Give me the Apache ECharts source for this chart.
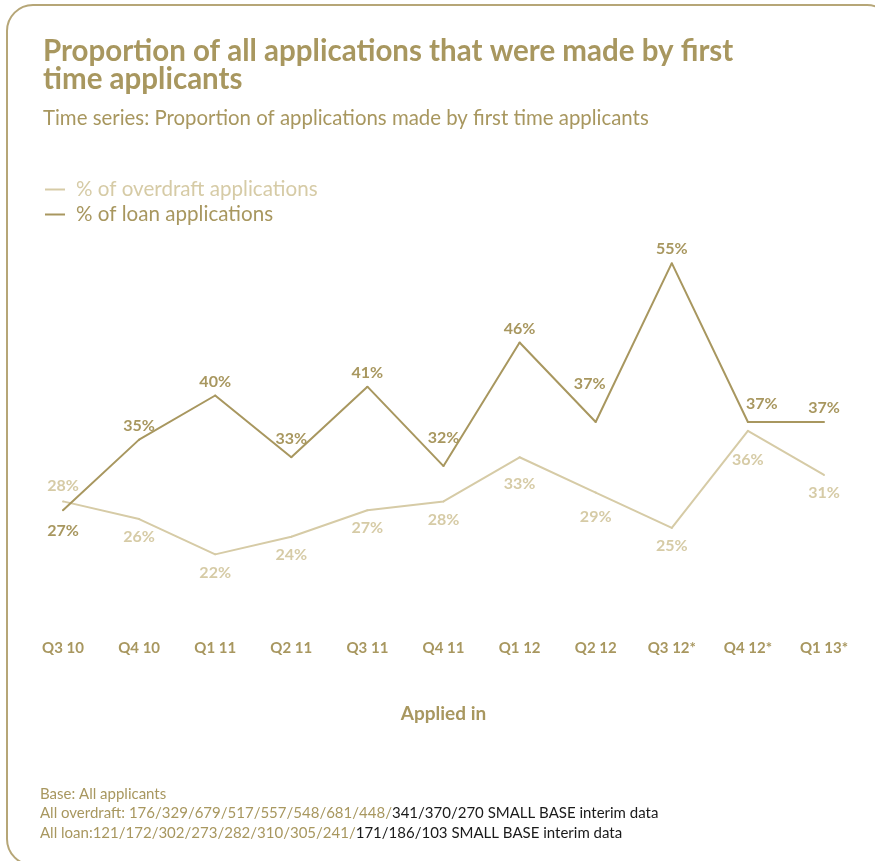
<!DOCTYPE html>
<html>
<head>
<meta charset="utf-8">
<script src="https://cdn.jsdelivr.net/npm/echarts@6/dist/echarts.min.js"></script>
<style>
  html, body { margin: 0; padding: 0; background: #ffffff; }
  #chart { width: 875px; height: 861px; }
</style>
</head>
<body>
<div id="chart"></div>
<script>
// Quarters in which applications were made
const quarters = ['Q3 10', 'Q4 10', 'Q1 11', 'Q2 11', 'Q3 11', 'Q4 11', 'Q1 12', 'Q2 12', 'Q3 12*', 'Q4 12*', 'Q1 13*'];
// Share of applications made by first time applicants (%)
const overdraftShare = [28, 26, 22, 24, 27, 28, 33, 29, 25, 36, 31];
const loanShare = [27, 35, 40, 33, 41, 32, 46, 37, 55, 37, 37];

const seriesNames = ['% of overdraft applications', '% of loan applications'];
const gold = '#a8975f';
const paleGold = '#d6cba6';
const FONT = 'Lato, "Open Sans", sans-serif';

// label placement tweaks per point, to keep labels clear of the lines
const overdraftLabelTweaks = {
  0: { position: 'top', distance: 7 },
  6: { distance: 18 },
  7: { distance: 15 },
  9: { distance: 20 }
};
const loanLabelTweaks = {
  0: { position: 'bottom', distance: 12 },
  3: { distance: 9 },
  5: { distance: 19 },
  7: { distance: 29, offset: [-6, 0] },
  9: { distance: 9, offset: [14, 0] }
};

function buildData(values, tweaks) {
  return values.map((v, i) => {
    const t = tweaks[i];
    return t ? { value: v, label: t } : v;
  });
}

const chart = echarts.init(document.getElementById('chart'), null, { renderer: 'canvas' });

chart.setOption({
  backgroundColor: '#ffffff',
  animation: false,
  title: {
    text: 'Proportion of all applications that were made by first\ntime applicants',
    subtext: 'Time series: Proportion of applications made by first time applicants',
    left: 38,
    top: 32,
    itemGap: 13,
    textStyle: {
      fontFamily: FONT,
      fontWeight: 'bold',
      fontSize: 29.5,
      lineHeight: 28,
      color: gold
    },
    subtextStyle: {
      fontFamily: FONT,
      fontSize: 20.4,
      color: gold
    }
  },
  legend: {
    orient: 'vertical',
    left: 40,
    top: 174,
    itemGap: 4,
    itemWidth: 20,
    itemHeight: 2,
    icon: 'rect',
    data: [
      { name: seriesNames[0], textStyle: { color: paleGold } },
      { name: seriesNames[1], textStyle: { color: gold } }
    ],
    textStyle: { fontFamily: FONT, fontSize: 20.6, padding: [0, 0, 0, 6] }
  },
  grid: {
    left: 63,
    right: 51,
    top: 219,
    bottom: 289
  },
  xAxis: {
    type: 'category',
    data: quarters,
    boundaryGap: false,
    axisLine: { show: false },
    axisTick: { show: false },
    splitLine: { show: false },
    axisLabel: {
      margin: 69,
      fontFamily: FONT,
      fontWeight: 'bold',
      fontSize: 15,
      color: gold
    },
    name: 'Applied in',
    nameLocation: 'middle',
    nameGap: 132,
    nameTextStyle: {
      fontFamily: FONT,
      fontWeight: 'bold',
      fontSize: 19,
      color: gold
    }
  },
  yAxis: {
    type: 'value',
    min: 20,
    max: 60,
    show: false
  },
  series: [
    {
      name: seriesNames[0],
      type: 'line',
      data: buildData(overdraftShare, overdraftLabelTweaks),
      symbol: 'circle',
      symbolSize: 2,
      lineStyle: { color: paleGold, width: 2 },
      itemStyle: { color: paleGold },
      label: {
        show: true,
        position: 'bottom',
        distance: 9,
        formatter: '{c}%',
        fontFamily: FONT,
        fontWeight: 'bold',
        fontSize: 16,
        color: paleGold
      },
      z: 2
    },
    {
      name: seriesNames[1],
      type: 'line',
      data: buildData(loanShare, loanLabelTweaks),
      symbol: 'circle',
      symbolSize: 2,
      lineStyle: { color: gold, width: 2 },
      itemStyle: { color: gold },
      label: {
        show: true,
        position: 'top',
        distance: 5,
        formatter: '{c}%',
        fontFamily: FONT,
        fontWeight: 'bold',
        fontSize: 16,
        color: gold
      },
      z: 3
    }
  ],
  graphic: [
    {
      type: 'rect',
      shape: { x: 7, y: 5, width: 886, height: 860, r: 26 },
      style: { fill: 'none', stroke: '#b6a677', lineWidth: 2 },
      silent: true,
      z: -1
    },
    {
      type: 'text',
      left: 40,
      top: 784,
      style: {
        text: 'Base: All applicants\n' +
          '{g|All overdraft: 176/329/679/517/557/548/681/448/}{k|341/370/270 SMALL BASE interim data}\n' +
          '{g|All loan:121/172/302/273/282/310/305/241/}{k|171/186/103 SMALL BASE interim data}',
        fontFamily: FONT,
        fontSize: 15,
        lineHeight: 19.5,
        fill: gold,
        rich: {
          g: { fill: gold, fontFamily: FONT, fontSize: 15, lineHeight: 19.5 },
          k: { fill: '#1a1a1a', fontFamily: FONT, fontSize: 15, lineHeight: 19.5 }
        }
      }
    }
  ]
});
</script>
</body>
</html>
